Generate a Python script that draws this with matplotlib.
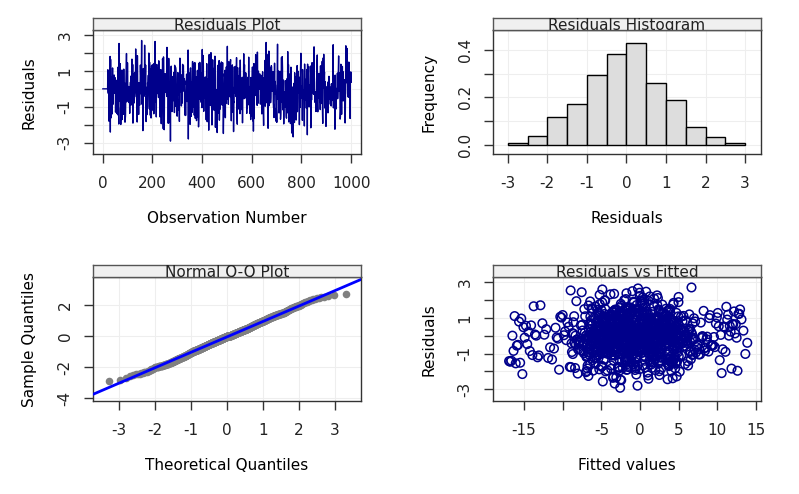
import matplotlib
matplotlib.use('Agg')
import matplotlib.pyplot as plt
import numpy as np
from statistics import NormalDist

# residual histogram (counts per 0.5 bin, n = 1000) and extremes
RESID_EDGES = [-3.0, -2.5, -2.0, -1.5, -1.0, -0.5, 0.0, 0.5, 1.0, 1.5, 2.0, 2.5, 3.0]
RESID_COUNTS = [4, 19, 58, 85, 146, 191, 214, 131, 94, 37, 17, 4]
RESID_MIN, RESID_MAX = -2.97, 2.72
N_LEADING_ZEROS = 20

# fitted values, counts per bin
FITTED_EDGES = [-17, -15, -13, -11, -9, -7, -5, -3, -1, 1, 3, 5, 7, 9, 11, 13, 14]
FITTED_COUNTS = [14, 12, 8, 13, 35, 95, 130, 155, 163, 150, 115, 50, 22, 16, 18, 4]

NAVY = '#00008B'
BOX = '#333333'
GRID = '#EEEEEE'
W, H = 799, 494

plt.rcParams['font.family'] = ['DejaVu Sans']
plt.rcParams['font.size'] = 11


def spread(edges, counts, lo=None, hi=None):
    """values spread evenly inside each bin"""
    e = list(edges)
    if lo is not None:
        e[0] = lo
    if hi is not None:
        e[-1] = hi
    out = []
    for a, b, c in zip(e[:-1], e[1:], counts):
        out.extend(a + (b - a) * (np.arange(c) + 0.5) / c)
    return np.array(out)


def scramble(n, salt):
    """fixed mixing order (integer hash)"""
    h = (np.arange(n, dtype=np.uint64) + np.uint64(salt)) * np.uint64(0x9E3779B97F4A7C15)
    h ^= h >> np.uint64(31)
    h *= np.uint64(0xBF58476D1CE4E5B9)
    h ^= h >> np.uint64(27)
    h *= np.uint64(0x94D049BB133111EB)
    h ^= h >> np.uint64(31)
    return np.argsort(h)


# the leading zeros fall in the [0, 0.5) bin
counts = list(RESID_COUNTS)
counts[6] -= N_LEADING_ZEROS
sorted_vals = spread(RESID_EDGES, counts, RESID_MIN, RESID_MAX)
resid = np.concatenate([np.zeros(N_LEADING_ZEROS), sorted_vals[scramble(len(sorted_vals), 7)]])
obs = np.arange(1, len(resid) + 1)

fitted_sorted = spread(FITTED_EDGES, FITTED_COUNTS)
fitted = fitted_sorted[scramble(len(fitted_sorted), 101)]

n = len(resid)
nd = NormalDist()
theo = np.array([nd.inv_cdf((i - 0.5) / n) for i in range(1, n + 1)])
samp = np.sort(resid)
q25, q75 = np.percentile(resid, [25, 75])
z25, z75 = nd.inv_cdf(0.25), nd.inv_cdf(0.75)
slope = (q75 - q25) / (z75 - z25)
intercept = q25 - slope * z25


def panel(fig, x0, x1, ytop, ybot, strip_top, title):
    ax = fig.add_axes([x0 / W, 1 - ybot / H, (x1 - x0) / W, (ybot - ytop) / H])
    st = fig.add_axes([x0 / W, 1 - ytop / H, (x1 - x0) / W, (ytop - strip_top) / H])
    st.set_facecolor('#F0F0F0')
    st.set_xticks([])
    st.set_yticks([])
    for s in st.spines.values():
        s.set_color('#555555')
        s.set_linewidth(1)
    st.text(0.5, 0.0, title, ha='center', va='baseline', transform=st.transAxes,
            fontsize=11, color='#222222', clip_on=True)
    for s in ax.spines.values():
        s.set_color(BOX)
        s.set_linewidth(1)
    ax.tick_params(direction='out', length=6.5, width=1, color=BOX, labelcolor='#222222')
    ax.tick_params(axis='x', pad=9.5)
    ax.tick_params(axis='y', pad=8, labelrotation=90)
    ax.grid(True, color=GRID, linewidth=0.8)
    ax.set_axisbelow(True)
    return ax


def finish(ax, xticks, xlabels, yticks, ylabels, xlabel, ylabel):
    ax.set_xticks(xticks, xlabels)
    ax.set_yticks(yticks, ylabels)
    plt.setp(ax.get_yticklabels(), va='center')
    ax.set_xlabel(xlabel, fontsize=11)
    ax.set_ylabel(ylabel, fontsize=11)
    ax.xaxis.set_label_coords(0.5, -0.52)
    ax.yaxis.set_label_coords(-0.236, 0.5)
    ax.xaxis.label.set_va('center')
    ax.yaxis.label.set_va('center')


fig = plt.figure(figsize=(W / 100, H / 100), dpi=100)

odd_labels = ['-3', '', '-1', '', '1', '', '3']

# residuals against observation number
ax = panel(fig, 92.7, 361, 30.3, 154, 18.3, 'Residuals Plot')
ax.plot(obs, resid, color=NAVY, linewidth=1.0)
ax.set_xlim(-40, 1040)
ax.set_ylim(-3.63, 3.26)
finish(ax, [0, 200, 400, 600, 800, 1000], ['0', '200', '400', '600', '800', '1000'],
       [-3, -2, -1, 0, 1, 2, 3], odd_labels, 'Observation Number', 'Residuals')

# histogram of residuals
ax = panel(fig, 492.7, 761, 30.3, 154, 18.3, 'Residuals Histogram')
ax.hist(resid, bins=RESID_EDGES, density=True, color='#DDDDDD', edgecolor='black', linewidth=1)
ax.set_xlim(-3.38, 3.40)
ax.set_ylim(-0.039, 0.482)
finish(ax, [-3, -2, -1, 0, 1, 2, 3], ['-3', '-2', '-1', '0', '1', '2', '3'],
       [0, 0.1, 0.2, 0.3, 0.4], ['0.0', '', '0.2', '', '0.4'], 'Residuals', 'Frequency')

# normal Q-Q
ax = panel(fig, 92.7, 361, 277.3, 401, 265, 'Normal Q-Q Plot')
ax.scatter(theo, samp, s=30, color='#808080', linewidths=0, zorder=2)
xl = np.array([-3.74, 3.72])
ax.plot(xl, intercept + slope * xl, color='#0000FF', linewidth=2, zorder=3)
ax.set_xlim(-3.74, 3.72)
ax.set_ylim(-4.17, 3.78)
finish(ax, [-3, -2, -1, 0, 1, 2, 3], ['-3', '-2', '-1', '0', '1', '2', '3'],
       [-4, -2, 0, 2], ['-4', '-2', '0', '2'], 'Theoretical Quantiles', 'Sample Quantiles')

# residuals against fitted values
ax = panel(fig, 492.7, 761, 277.3, 401, 265, 'Residuals vs Fitted')
ax.scatter(fitted, resid, s=38, facecolors='none', edgecolors=NAVY, linewidths=1.1, zorder=2)
ax.set_xlim(-19.05, 15.65)
ax.set_ylim(-3.65, 3.26)
finish(ax, [-15, -10, -5, 0, 5, 10, 15], ['-15', '', '-5', '0', '5', '10', '15'],
       [-3, -2, -1, 0, 1, 2, 3], odd_labels, 'Fitted values', 'Residuals')

fig.savefig('out.png', dpi=100)
